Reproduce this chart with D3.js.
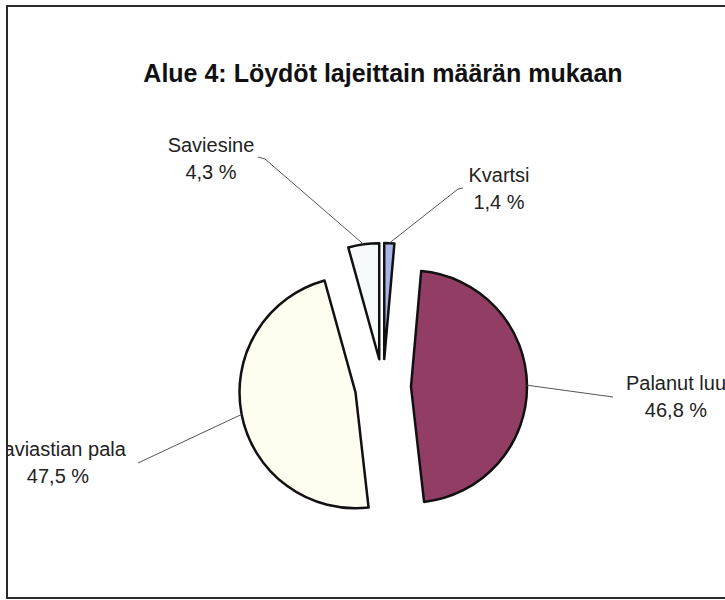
<!DOCTYPE html>
<html>
<head>
<meta charset="utf-8">
<script src="https://cdn.jsdelivr.net/npm/d3@7"></script>
<style>
  body { margin: 0; background: #fff; }
  text { font-family: "Liberation Sans", Arial, sans-serif; }
</style>
</head>
<body>
<svg id="chart" width="725" height="600"></svg>
<script>
var title = "Alue 4: Löydöt lajeittain määrän mukaan";
var categories = ["Kvartsi", "Palanut luu", "Saviastian pala", "Saviesine"];
var percents = [1.4, 46.8, 47.5, 4.3];
var colors = ["#a9b5e6", "#923d63", "#fffdef", "#f6fafa"];

// where each label sits: centre x, first baseline, leader end (and a short stub)
var labelPos = [
    {x: 499, y: 182, end: [458, 189], stub: [463, 188]},
    {x: 676, y: 390, end: [613, 397]},
    {x: 58, y: 456, end: [138, 463]},
    {x: 211, y: 152, end: [265, 159], stub: [258, 157]}
];

var svg = d3.select("#chart"),
    width = +svg.attr("width"),
    height = +svg.attr("height");

var cx = 383, cy = 387,
    radius = 116,
    explode = 28;

var fmt = function(v) { return d3.format(".1f")(v).replace(".", ",") + " %"; };

svg.append("defs").append("clipPath")
    .attr("id", "frame-clip")
    .append("rect")
    .attr("x", 8).attr("y", 7)
    .attr("width", width - 8).attr("height", 590);

svg.append("rect")
    .attr("x", 7).attr("y", 6)
    .attr("width", 740).attr("height", 592)
    .attr("fill", "#fff")
    .attr("stroke", "#2a2a2a")
    .attr("stroke-width", 2);

svg.append("text")
    .attr("x", cx).attr("y", 82)
    .attr("text-anchor", "middle")
    .attr("font-size", 25)
    .attr("font-weight", "bold")
    .attr("fill", "#111")
    .text(title);

var pie = d3.pie().sort(null).value(function(d) { return d; });
var arc = d3.arc().innerRadius(0).outerRadius(radius);
var arcs = pie(percents);

function offset(d, dist) {
    var a = (d.startAngle + d.endAngle) / 2;
    return [Math.sin(a) * dist, -Math.cos(a) * dist];
}

var g = svg.append("g")
    .attr("transform", "translate(" + cx + "," + cy + ")");

g.selectAll("path")
    .data(arcs)
    .enter().append("path")
    .attr("transform", function(d) {
        var o = offset(d, explode);
        return "translate(" + o[0] + "," + o[1] + ")";
    })
    .attr("d", arc)
    .attr("fill", function(d, i) { return colors[i]; })
    .attr("stroke", "#111")
    .attr("stroke-width", 2.5)
    .attr("stroke-linejoin", "round");

// the left label runs past the frame in the original, so clip to it
var labels = svg.append("g").attr("clip-path", "url(#frame-clip)");

labels.selectAll("polyline")
    .data(arcs)
    .enter().append("polyline")
    .attr("points", function(d, i) {
        var o = offset(d, explode),
            e = offset(d, radius),
            p = labelPos[i];
        var pts = [[cx + o[0] + e[0], cy + o[1] + e[1]], p.end];
        if (p.stub) pts.push(p.stub);
        return pts.map(function(q) { return q.join(","); }).join(" ");
    })
    .attr("fill", "none")
    .attr("stroke", "#555")
    .attr("stroke-width", 1);

var lab = labels.selectAll("text.lab")
    .data(arcs)
    .enter().append("text")
    .attr("class", "lab")
    .attr("text-anchor", "middle")
    .attr("font-size", 20)
    .attr("fill", "#222");

lab.append("tspan")
    .attr("x", function(d, i) { return labelPos[i].x; })
    .attr("y", function(d, i) { return labelPos[i].y; })
    .text(function(d, i) { return categories[i]; });

lab.append("tspan")
    .attr("x", function(d, i) { return labelPos[i].x; })
    .attr("y", function(d, i) { return labelPos[i].y + 27; })
    .text(function(d) { return fmt(d.data); });
</script>
</body>
</html>
